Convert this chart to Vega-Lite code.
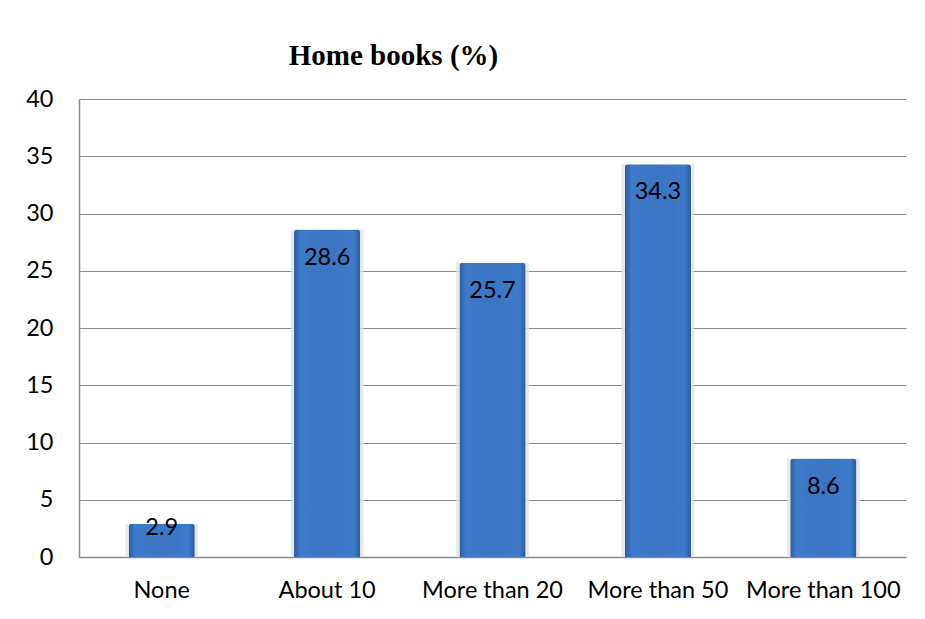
{
  "$schema": "https://vega.github.io/schema/vega-lite/v6.json",
  "autosize": "none",
  "width": 827,
  "height": 458,
  "padding": {"left": 79, "top": 99, "right": 19, "bottom": 62},
  "background": "white",
  "title": {
    "text": "Home books (%)",
    "font": "Liberation Serif",
    "fontSize": 29,
    "fontWeight": "bold",
    "color": "black",
    "anchor": "middle",
    "frame": "group",
    "dx": -99,
    "offset": 16
  },
  "data": {
    "values": [
      {"category": "None", "value": 2.9},
      {"category": "About 10", "value": 28.6},
      {"category": "More than 20", "value": 25.7},
      {"category": "More than 50", "value": 34.3},
      {"category": "More than 100", "value": 8.6}
    ]
  },
  "config": {
    "view": {"stroke": null},
    "font": "Lato"
  },
  "encoding": {
    "x": {
      "field": "category",
      "type": "nominal",
      "sort": null,
      "scale": {"paddingInner": 0.6, "paddingOuter": 0.3},
      "axis": {
        "title": null,
        "labelAngle": 0,
        "labelFont": "Lato",
        "labelFontSize": 23.5,
        "labelColor": "black",
        "labelPadding": 21,
        "ticks": false,
        "domainColor": "#8a8a8a",
        "domainWidth": 1.5
      }
    },
    "y": {
      "field": "value",
      "type": "quantitative",
      "scale": {"domain": [0, 40], "nice": false},
      "axis": {
        "title": null,
        "values": [0, 5, 10, 15, 20, 25, 30, 35, 40],
        "labelFont": "Lato",
        "labelFontSize": 23.5,
        "labelColor": "black",
        "labelPadding": 26,
        "ticks": false,
        "gridColor": "#8a8a8a",
        "gridWidth": 1.2,
        "domainColor": "#8a8a8a",
        "domainWidth": 1.5
      }
    }
  },
  "layer": [
    {
      "mark": {"type": "bar", "width": {"band": 1.1}, "color": "#e4e4e4", "opacity": 0.8}
    },
    {
      "mark": {
        "type": "bar",
        "width": {"band": 1},
        "cornerRadiusTopLeft": 3,
        "cornerRadiusTopRight": 3,
        "color": {
          "gradient": "linear",
          "x1": 0, "y1": 0, "x2": 1, "y2": 0,
          "stops": [
            {"offset": 0, "color": "#2b5b9f"},
            {"offset": 0.1, "color": "#3f7bcb"},
            {"offset": 0.5, "color": "#3a74c2"},
            {"offset": 0.9, "color": "#3f7bcb"},
            {"offset": 1, "color": "#2b5b9f"}
          ]
        }
      }
    },
    {
      "transform": [{"filter": "datum.value >= 5"}],
      "mark": {"type": "text", "baseline": "middle", "dy": 28, "fontSize": 23.5, "font": "Lato", "color": "black"},
      "encoding": {"text": {"field": "value", "type": "quantitative", "format": ".1f"}}
    },
    {
      "transform": [{"filter": "datum.value < 5"}],
      "mark": {"type": "text", "baseline": "middle", "dy": 4, "fontSize": 23.5, "font": "Lato", "color": "black"},
      "encoding": {"text": {"field": "value", "type": "quantitative", "format": ".1f"}}
    }
  ]
}
